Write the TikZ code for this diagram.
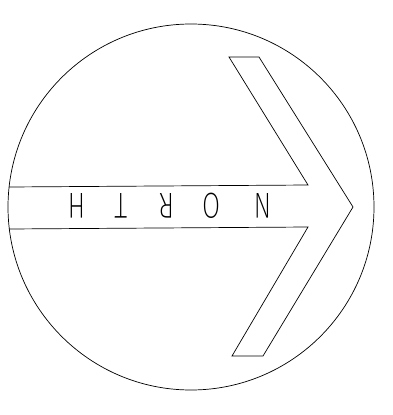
\documentclass[tikz,border=0pt]{standalone}
\usepackage{fontspec}
\newfontfamily\thinsans{Fira Sans ExtraLight}
\usetikzlibrary{calc}
\tikzset{outline/.style={draw=black,line width=0.7pt,line join=miter},
letter/.style={font=\thinsans\fontsize{36}{36}\selectfont,rotate=180,xscale=0.72,inner sep=0pt}}

\begin{document}
\begin{tikzpicture}[x=1pt,y=-1pt]
\useasboundingbox (0,0) rectangle (393,415);
\coordinate (c) at (191,207);
\draw[outline] (c) circle[radius=183];
% band and chevron
\draw[outline] (9,187)--(308,185)--(229,57)--(259,57)--(353,207)--(263,356)--(232,356)--(308,227)--(9,229);
\foreach \x/\l in {263/N,212/O,167/R,121/T,77/H}{\node[letter] (l\l) at (\x,206) {\l};}
\end{tikzpicture}
\end{document}
